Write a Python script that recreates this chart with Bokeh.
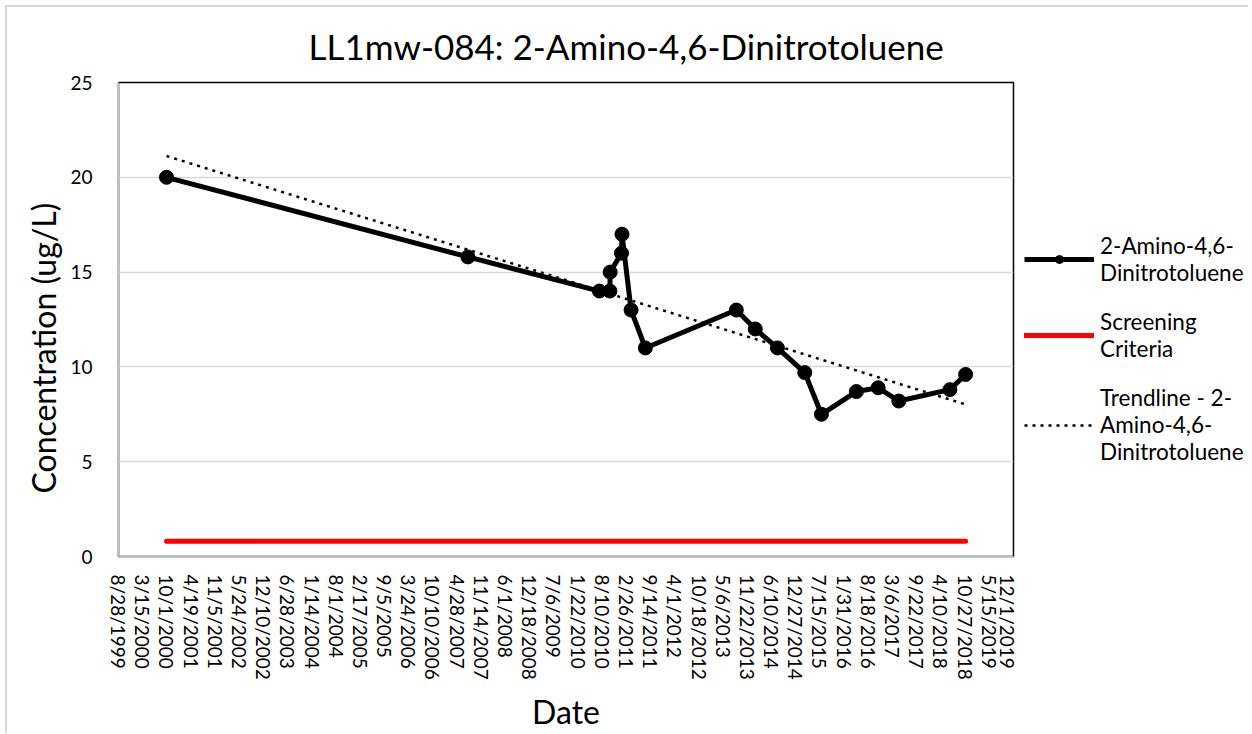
import numpy as np
import pandas as pd
from bokeh.plotting import figure
from bokeh.layouts import row
from bokeh.models import Range1d, FixedTicker, Legend, LegendItem
from bokeh.embed import file_html
from bokeh.resources import INLINE

# ---------------- data ----------------
sample_dates = ["2000-09-28", "2007-07-26", "2010-07-17", "2010-10-12", "2010-10-14",
                "2011-01-16", "2011-01-20", "2011-04-05", "2011-08-01", "2013-08-22",
                "2014-01-26", "2014-07-28", "2015-03-11", "2015-07-27", "2016-05-11",
                "2016-11-07", "2017-04-27", "2018-06-23", "2018-10-31"]
concentration = [20, 15.8, 14, 14, 15, 16, 17, 13, 11, 13, 12, 11, 9.7, 7.5, 8.7,
                 8.9, 8.2, 8.8, 9.6]
screening_criteria = 0.8
x_tick_labels = ["8/28/1999", "3/15/2000", "10/1/2000", "4/19/2001", "11/5/2001",
                 "5/24/2002", "12/10/2002", "6/28/2003", "1/14/2004", "8/1/2004",
                 "2/17/2005", "9/5/2005", "3/24/2006", "10/10/2006", "4/28/2007",
                 "11/14/2007", "6/1/2008", "12/18/2008", "7/6/2009", "1/22/2010",
                 "8/10/2010", "2/26/2011", "9/14/2011", "4/1/2012", "10/18/2012",
                 "5/6/2013", "11/22/2013", "6/10/2014", "12/27/2014", "7/15/2015",
                 "1/31/2016", "8/18/2016", "3/6/2017", "9/22/2017", "4/10/2018",
                 "10/27/2018", "5/15/2019", "12/1/2019"]
y_ticks = [0, 5, 10, 15, 20, 25]

title_text = "LL1mw-084: 2-Amino-4,6-Dinitrotoluene"
x_title = "Date"
y_title = "Concentration (ug/L)"
series_label = "2-Amino-4,6-\nDinitrotoluene"
screen_label = "Screening\nCriteria"
trend_label = "Trendline - 2-\nAmino-4,6-\nDinitrotoluene"

# ---------------- helpers ----------------
EPOCH = pd.Timestamp("1899-12-30")


def serial(ts):
    return int((pd.Timestamp(ts) - EPOCH).days)


xs = [serial(d) for d in sample_dates]
tick_vals = [serial(pd.to_datetime(t, format="%m/%d/%Y")) for t in x_tick_labels]

slope, intercept = np.polyfit(np.array(xs, float), np.array(concentration, float), 1)
trend_x = [xs[0], xs[-1]]
trend_y = [slope * v + intercept for v in trend_x]

FONT = "Lato"
SERIES_STYLE = dict(line_color="black", line_width=5, line_join="round")
MARKER_STYLE = dict(size=14, fill_color="black", line_color="black")
SCREEN_STYLE = dict(line_color="#FF0000", line_width=5, line_cap="round")
TREND_STYLE = dict(line_color="black", line_width=2.5, line_dash="3 5")

OFF = 7          # outer chart border (margin 5 + border 2)
H = 726

# ---------------- main chart ----------------
p = figure(width=1018 - OFF, height=H, output_backend="svg", toolbar_location=None,
           x_range=Range1d(tick_vals[0], tick_vals[-1]), y_range=Range1d(0, 25),
           min_border_left=118 - OFF, min_border_right=5, min_border_top=82 - OFF,
           min_border_bottom=H - (557 - OFF), background_fill_color="white",
           border_fill_color="white")

p.title.text = title_text
p.title.text_font = FONT
p.title.text_font_size = "35px"
p.title.text_font_style = "normal"
p.title.text_line_height = 1.0
p.title.align = "left"
p.title.offset = 190
p.title.standoff = 31
p.title.text_color = "black"

p.outline_line_color = "black"
p.outline_line_width = 1.5

p.line(trend_x, [screening_criteria, screening_criteria], **SCREEN_STYLE)
p.line(xs, concentration, **SERIES_STYLE)
p.scatter(xs, concentration, **MARKER_STYLE)
p.line(trend_x, trend_y, **TREND_STYLE)

p.xaxis.ticker = FixedTicker(ticks=tick_vals)
p.xaxis.major_label_overrides = {v: t for v, t in zip(tick_vals, x_tick_labels)}
p.xaxis.major_label_orientation = -np.pi / 2
p.yaxis.ticker = FixedTicker(ticks=y_ticks)
for ax in (p.xaxis, p.yaxis):
    ax.axis_line_color = "#bfbfbf"
    ax.axis_line_width = 1.5
    ax.major_tick_line_color = None
    ax.minor_tick_line_color = None
    ax.major_label_text_font = FONT
    ax.major_label_text_font_size = "19px"
    ax.major_label_text_color = "black"
    ax.axis_label_text_font = FONT
    ax.axis_label_text_font_size = "32px"
    ax.axis_label_text_font_style = "normal"
    ax.axis_label_text_color = "black"
p.xaxis.axis_label = x_title
p.yaxis.axis_label = y_title + "\u00a0" * 7
p.xaxis.major_label_standoff = 12
p.yaxis.major_label_standoff = 20
p.xaxis.axis_label_standoff = 9
p.yaxis.axis_label_standoff = 4

p.xgrid.visible = False
p.ygrid.grid_line_color = "#d9d9d9"
p.ygrid.grid_line_width = 1.5

# ---------------- legend panel ----------------
q = figure(width=230, height=H, output_backend="svg", toolbar_location=None,
           x_range=Range1d(0, 1), y_range=Range1d(0, 1),
           x_axis_type=None, y_axis_type=None,
           min_border_left=6, min_border_right=0, min_border_top=82 - OFF,
           min_border_bottom=H - (557 - OFF),
           background_fill_color="white", border_fill_color="white")
q.outline_line_color = None
q.xgrid.visible = False
q.ygrid.visible = False

NAN = [float("nan")]
l_series = q.line(NAN, NAN, **SERIES_STYLE)
l_marker = q.scatter(NAN, NAN, **MARKER_STYLE)
l_screen = q.line(NAN, NAN, **SCREEN_STYLE)
l_trend = q.line(NAN, NAN, **TREND_STYLE)

legend = Legend(items=[
    LegendItem(label=series_label, renderers=[l_series, l_marker]),
    LegendItem(label=screen_label, renderers=[l_screen]),
    LegendItem(label=trend_label, renderers=[l_trend]),
], location=(0, 91))
legend.border_line_color = None
legend.background_fill_alpha = 0
legend.label_text_font = FONT
legend.label_text_font_size = "22.5px"
legend.label_text_color = "black"
legend.glyph_width = 70
legend.glyph_height = 20
legend.label_standoff = 6
legend.spacing = 22
legend.padding = 0
legend.margin = 0
q.add_layout(legend, "center")

layout = row(p, q, styles={"margin-left": "5px", "margin-top": "5px",
                           "border-left": "2px solid #d9d9d9",
                           "border-top": "2px solid #d9d9d9"})
open("out.html", "w").write(file_html(layout, INLINE))
